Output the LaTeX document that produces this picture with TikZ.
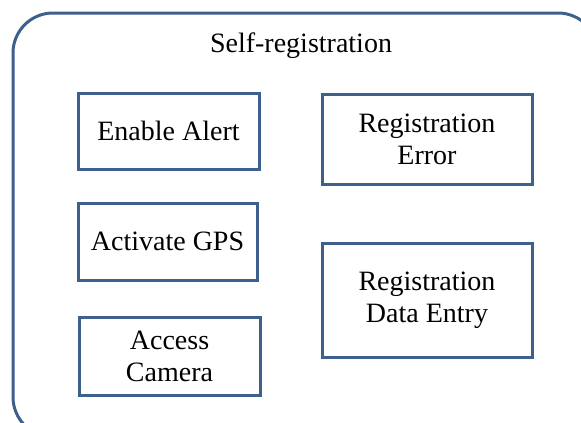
\documentclass[tikz,border=0pt]{standalone}
\usepackage{fontspec}
\setmainfont{Liberation Serif}
\definecolor{edgeblue}{RGB}{62,96,140}

\begin{document}
\begin{tikzpicture}[x=1pt,y=-1pt,
    frame/.style={draw=edgeblue,line width=3pt,rounded corners=40pt},
    usecase/.style={draw=edgeblue,line width=3pt,align=center,inner sep=0pt,
      font=\fontsize{28}{32}\selectfont},
    label/.style={font=\fontsize{28}{32}\selectfont}]
  \useasboundingbox (0,0) rectangle (581,423);
  \clip (0,0) rectangle (581,423);
  \draw[frame] (13,13) rectangle (598,437);
  \node[label] (title) at (301,46) {Self-registration};
  \node[usecase,minimum width=181pt,minimum height=76pt] (alert) at (168.5,131) {Enable Alert};
  \node[usecase,minimum width=179pt,minimum height=77pt] (gps) at (167.5,241.5) {Activate GPS};
  \node[usecase,minimum width=181pt,minimum height=78pt] (camera) at (169.5,356) {Access\\Camera};
  \node[usecase,minimum width=210pt,minimum height=90pt] (error) at (427,139) {Registration\\Error};
  \node[usecase,minimum width=210pt,minimum height=114pt] (entry) at (427,300) {Registration\\Data Entry};
\end{tikzpicture}
\end{document}
